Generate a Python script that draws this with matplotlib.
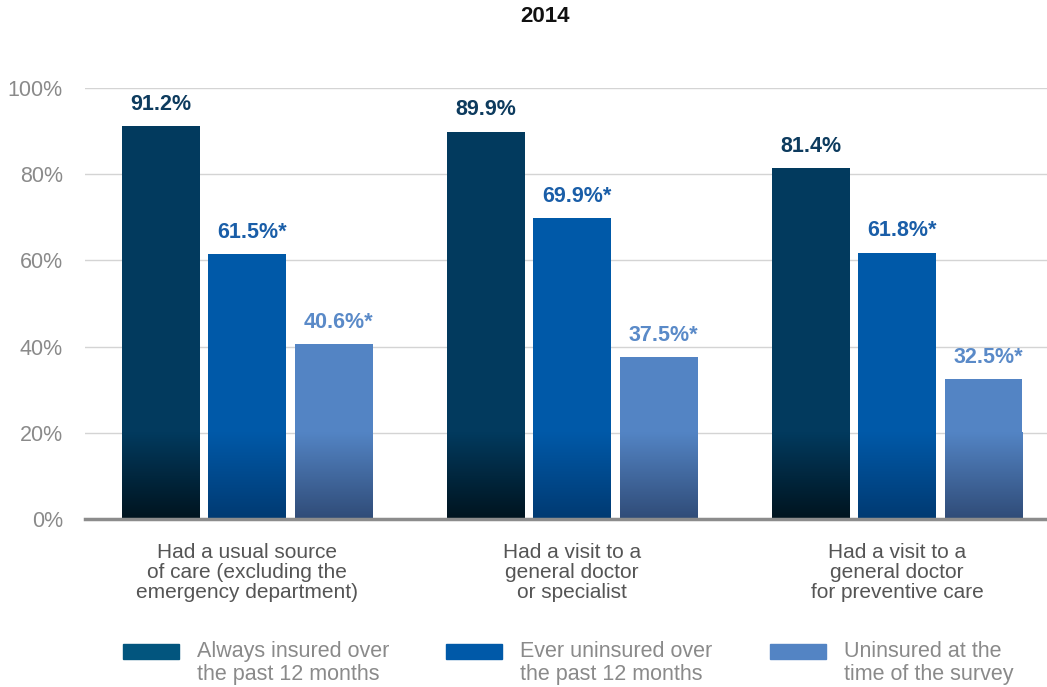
import matplotlib
matplotlib.use("Agg")
import matplotlib.pyplot as plt
import numpy as np
from matplotlib.patches import Rectangle
from matplotlib.colors import to_rgb

plt.rcParams['font.family'] = ['Liberation Sans', 'DejaVu Sans']

title = "2014"
categories = ["Had a usual source\nof care (excluding the\nemergency department)",
              "Had a visit to a\ngeneral doctor\nor specialist",
              "Had a visit to a\ngeneral doctor\nfor preventive care"]
series_names = ["Always insured over\nthe past 12 months",
                "Ever uninsured over\nthe past 12 months",
                "Uninsured at the\ntime of the survey"]
always_insured = [91.2, 89.9, 81.4]
ever_uninsured = [61.5, 69.9, 61.8]
uninsured_now = [40.6, 37.5, 32.5]
significant = [[False, False, False], [True, True, True], [True, True, True]]
yticks = [0, 20, 40, 60, 80, 100]

series = [always_insured, ever_uninsured, uninsured_now]
top_colors = ["#023a5e", "#0059a8", "#5384c4"]
bottom_colors = ["#00141f", "#003a72", "#304c78"]
label_colors = ["#0d3b5e", "#1a5ea8", "#5a8ac8"]
legend_colors = ["#02557e", "#0059a8", "#5384c4"]

W, H = 1047, 687
fig = plt.figure(figsize=(W / 100, H / 100), dpi=100)
ax = fig.add_axes([85 / W, (H - 519) / H, (W - 85) / W, (519 - 88) / H])

x = np.arange(len(categories))
width = 0.24
step = 0.266
for i, vals in enumerate(series):
    pos = x + (i - 1) * step
    bars = ax.bar(pos, vals, width=width, color=top_colors[i], zorder=3)
    c_top = np.array(to_rgb(top_colors[i]))
    c_bot = np.array(to_rgb(bottom_colors[i]))
    for b, v, s in zip(bars, vals, significant[i]):
        x0 = b.get_x()
        x1 = x0 + b.get_width()
        # gradient in the lower 20% of the bar
        t = np.linspace(0, 1, 100)[:, None]
        grad = (c_bot[None, :] * (1 - t) + c_top[None, :] * t)[:, None, :]
        im = ax.imshow(grad, extent=[x0, x1, 0, 20], origin='lower',
                       aspect='auto', zorder=4, interpolation='bilinear')
        im.set_clip_path(b)
        txt = f"{v:.1f}%" + ("*" if s else "")
        ax.text(b.get_x() + b.get_width() / 2 + (0.015 if s else 0), v + 2.6, txt,
                ha='center', va='bottom', fontsize=15.5, fontweight='bold',
                color=label_colors[i], zorder=5)

ax.set_xlim(-0.5, (W - 247) / 325)
ax.set_ylim(0, 100)
ax.set_yticks(yticks)
ax.set_yticklabels([f"{t}%" for t in yticks])
ax.tick_params(axis='y', length=0, pad=16, labelsize=15.5, labelcolor="#8a8a8a")
ax.set_xticks(x)
ax.set_xticklabels(categories, fontsize=15, color="#555555", linespacing=1.08)
ax.tick_params(axis='x', length=0, pad=17)
ax.grid(axis='y', color="#d4d4d4", linewidth=1, zorder=0)
for sp in ax.spines.values():
    sp.set_visible(False)
ax.axhline(0, color="#8c8c8c", linewidth=2.5, zorder=6, clip_on=False)

fig.text(545 / W, 1 - 17 / H, title, ha='center', va='center', fontsize=16,
         fontweight='bold', color='#111111')

# legend
lx = [123, 446, 770]
for i in range(3):
    fig.patches.append(Rectangle((lx[i] / W, 1 - 659 / H), 56 / W, 15 / H,
                                 transform=fig.transFigure, color=legend_colors[i]))
    fig.text((lx[i] + 74) / W, 1 - 663 / H, series_names[i], ha='left', va='center',
             fontsize=15.5, color="#8a8a8a", linespacing=1.12)

fig.savefig("out.png", dpi=100)
